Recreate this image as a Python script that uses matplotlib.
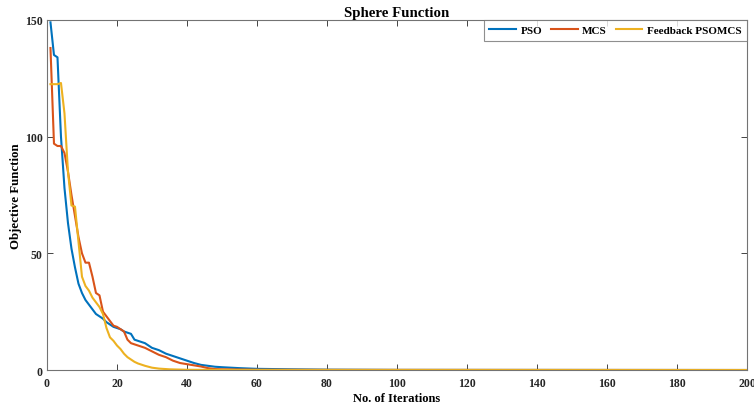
import matplotlib
matplotlib.use('Agg')
import matplotlib.pyplot as plt

# a. data (iteration, objective value)
pso_x = [1, 2, 3, 4, 5, 6, 7, 8, 9, 10, 11, 12, 13, 14, 15, 16, 17, 18, 19, 20,
         21, 22, 23, 24, 25, 26, 28, 30, 32, 34, 36, 38, 40, 42, 44, 46, 48, 50,
         55, 60, 70, 80, 100, 200]
pso_y = [149, 135, 134, 100, 78, 63, 52, 44, 37, 33, 30, 28, 26, 24, 23, 22, 20.5, 19.5, 18.5, 18,
         17.5, 16.5, 16, 15.5, 13, 12.5, 11.5, 9.5, 8.5, 7, 6, 5, 4, 3, 2.2, 1.8, 1.4, 1.2,
         0.8, 0.5, 0.3, 0.15, 0.05, 0]

mcs_x = [1, 2, 3, 4, 5, 6, 7, 8, 9, 10, 11, 12, 13, 14, 15, 16, 17, 18, 19, 20,
         21, 22, 23, 24, 26, 28, 30, 32, 34, 36, 38, 40, 42, 44, 46, 48, 50, 60, 80, 200]
mcs_y = [138, 97, 96, 96, 93, 85, 75, 66, 57, 50, 46, 46, 40, 33, 32, 25, 23, 21, 19, 18.5,
         17.5, 16.5, 13, 11.5, 10.5, 9.5, 8, 6.5, 5.5, 4, 3, 2.5, 2, 1.5, 0.8, 0.4, 0.3, 0.1, 0.05, 0]

fb_x = [1, 2, 3, 4, 5, 6, 7, 8, 9, 10, 11, 12, 13, 14, 15, 16, 17, 18, 19, 20,
        21, 22, 23, 24, 25, 26, 28, 30, 32, 35, 40, 50, 200]
fb_y = [122.5, 122.5, 122.5, 123, 110, 85, 70.5, 70, 55, 40, 36, 34, 31, 29, 27, 24, 18, 14, 12.5, 10.5,
        9, 7, 5.5, 4.5, 3.5, 2.8, 1.8, 1, 0.6, 0.3, 0.1, 0.05, 0]

# b. figure setup
plt.rcParams['font.family'] = 'Liberation Serif'
plt.rcParams['font.weight'] = 'bold'
fig = plt.figure(figsize=(7.54, 4.10), dpi=100)
ax = fig.add_axes([0.0623, 0.0951, 0.9284, 0.8537])

# c. plot the three series
ax.plot(pso_x, pso_y, color='#0072BD', lw=1.5, label='PSO')
ax.plot(mcs_x, mcs_y, color='#D95319', lw=1.5, label='MCS')
ax.plot(fb_x, fb_y, color='#EDB120', lw=1.5, label='Feedback PSOMCS')

# d. axes styling (MATLAB look)
ax.set_xlim(0, 200)
ax.set_ylim(0, 150)
ax.set_xticks(range(0, 201, 20))
ax.set_yticks([0, 50, 100, 150])
ax.tick_params(direction='in', top=True, right=True, length=4, width=0.6,
               labelsize=8.5, colors='0.15')
ax.tick_params(axis='x', pad=5)
ax.tick_params(axis='y', pad=3)
for lab in ax.get_xticklabels() + ax.get_yticklabels():
    lab.set_fontweight('bold')
for sp in ax.spines.values():
    sp.set_color('0.45')
    sp.set_linewidth(0.8)

ax.set_xlabel('No. of Iterations', fontsize=9, fontweight='bold', labelpad=2)
ax.set_ylabel('Objective Function', fontsize=9.3, fontweight='bold', labelpad=2)
ax.set_title('Sphere Function', fontsize=10.7, fontweight='bold', pad=3)

# e. legend
leg = ax.legend(loc='upper right', ncol=3, fontsize=8, frameon=True, fancybox=False,
                borderaxespad=0.0, handlelength=2.4, columnspacing=0.8, handletextpad=0.4,
                borderpad=0.5)
leg.get_frame().set_edgecolor('0.45')
leg.get_frame().set_linewidth(0.8)
for t in leg.get_texts():
    t.set_fontweight('bold')

fig.savefig('out.png', dpi=100)
